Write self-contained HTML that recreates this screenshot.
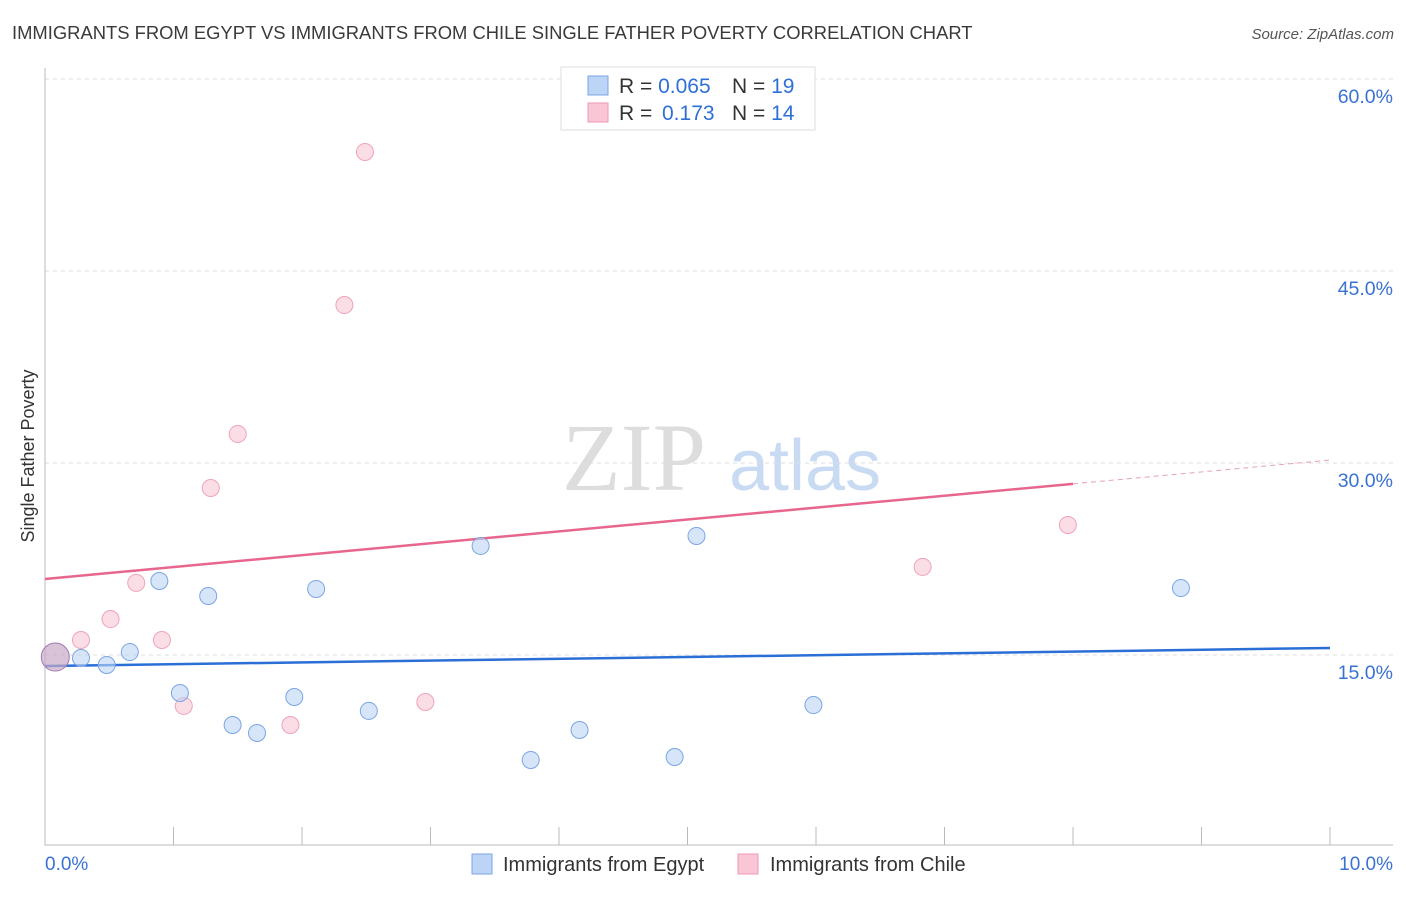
<!DOCTYPE html>
<html><head><meta charset="utf-8"><style>
body{margin:0;background:#fff;font-family:"Liberation Sans",sans-serif}
</style></head><body>
<svg id="c" width="1406" height="892" xmlns="http://www.w3.org/2000/svg">
<text x="12" y="39" font-size="18.4" fill="#3a3a3a">IMMIGRANTS FROM EGYPT VS IMMIGRANTS FROM CHILE SINGLE FATHER POVERTY CORRELATION CHART</text>
<text x="1394" y="39" font-size="15" fill="#555" font-style="italic" text-anchor="end">Source: ZipAtlas.com</text>
<text x="634" y="490" font-size="96" fill="#ddd" font-family="Liberation Serif,serif" text-anchor="middle">ZIP</text>
<text x="805" y="490" font-size="72" fill="#c9dbf3" text-anchor="middle">atlas</text>
<text transform="translate(34,456) rotate(-90)" font-size="18" fill="#333" text-anchor="middle">Single Father Poverty</text>
<g id="grid"></g><g id="axes"></g><g id="lines"></g><g id="pts"></g>
<g>
<rect x="561" y="67" width="254" height="63" fill="#fff" stroke="#ddd"/>
<rect x="588" y="76" width="20" height="19" fill="#bcd4f5" stroke="#7aa5e3"/>
<rect x="588" y="103" width="20" height="19" fill="#f8c6d5" stroke="#ee9ab4"/>
<text x="619" y="93" font-size="21" fill="#333">R = <tspan fill="#2f6fd6">0.065</tspan></text>
<text x="732" y="93" font-size="21" fill="#333">N = <tspan fill="#2f6fd6">19</tspan></text>
<text x="619" y="120" font-size="21" fill="#333">R = <tspan fill="#2f6fd6" x="662">0.173</tspan></text>
<text x="732" y="120" font-size="21" fill="#333">N = <tspan fill="#2f6fd6">14</tspan></text>
</g>
<g>
<rect x="472" y="854" width="20" height="20" fill="#bcd4f5" stroke="#7aa5e3"/>
<text x="503" y="871" font-size="20" fill="#333">Immigrants from Egypt</text>
<rect x="738" y="854" width="20" height="20" fill="#f8c6d5" stroke="#ee9ab4"/>
<text x="770" y="871" font-size="20" fill="#333">Immigrants from Chile</text>
</g>
</svg>
<script>
const egyptX=[0.08,0.28,0.48,0.66,0.89,1.05,1.27,1.46,1.65,1.94,2.11,2.52,3.39,3.78,4.16,4.90,5.07,5.98,8.84];
const egyptY=[14.84,14.77,14.22,15.23,20.78,12.03,19.61,9.53,8.91,11.72,20.16,10.63,23.52,6.80,9.14,7.03,24.30,11.09,20.23];
const chileX=[0.08,0.28,0.51,0.71,0.91,1.08,1.29,1.50,1.91,2.33,2.49,2.96,6.83,7.96];
const chileY=[14.84,16.17,17.81,20.63,16.17,11.02,28.05,32.27,9.53,42.34,54.30,11.33,21.88,25.16];
const yTicks=[15,30,45,60];
const xTickLabels=["0.0%","10.0%"];
const egyptTrend=[14.14,15.55];
const chileTrend=[20.94,30.23];
const chileSolidEnd=8.0;
const NS="http://www.w3.org/2000/svg";
const sx=v=>45+v*128.5, sy=v=>847-v*12.8;
function mk(p,t,a){const e=document.createElementNS(NS,t);for(const k in a)e.setAttribute(k,a[k]);document.getElementById(p).appendChild(e);return e;}
yTicks.forEach(t=>{
 const g=mk('grid','line',{x1:45,x2:1393,y1:sy(t),y2:sy(t),stroke:'#ddd','stroke-dasharray':'4,4'});
 
 
 const l=mk('grid','text',{x:1393,y:sy(t)+24,'font-size':19.5,fill:'#3a72d4','text-anchor':'end'});
 l.textContent=t.toFixed(1)+'%';
 
 
});
const ax=mk('axes','path',{d:'M45,68V845H1393',stroke:'#bbb',fill:'none'});


for(let i=1;i<=10;i++){const t=mk('axes','line',{x1:sx(i),x2:sx(i),y1:827,y2:845,stroke:'#bbb'});
 
 }
xTickLabels.forEach((s,i)=>{const t=mk('axes','text',{x:i?1393:45,y:870,'font-size':19,fill:'#3a72d4','text-anchor':i?'end':'start'});t.textContent=s;
 
 });
const cy=x=>chileTrend[0]+(chileTrend[1]-chileTrend[0])*x/10;
let l1=mk('lines','line',{x1:sx(0),y1:sy(egyptTrend[0]),x2:sx(10),y2:sy(egyptTrend[1]),stroke:'#2a6fd6','stroke-width':2.5});


let l2=mk('lines','line',{x1:sx(0),y1:sy(cy(0)),x2:sx(chileSolidEnd),y2:sy(cy(chileSolidEnd)),stroke:'#e8668e','stroke-width':2.5});


let l3=mk('lines','line',{x1:sx(chileSolidEnd),y1:sy(cy(chileSolidEnd)),x2:sx(10),y2:sy(cy(10)),stroke:'#e8a0b6','stroke-width':1,'stroke-dasharray':'5,4'});


chileX.forEach((x,i)=>{const c=mk('pts','circle',{cx:sx(x),cy:sy(chileY[i]),r:i?8.5:14,fill:i?'rgba(248,198,213,0.6)':'rgba(200,170,200,0.7)',stroke:i?'#efa3bb':'#a27ab0','stroke-width':1});
 
 });
egyptX.forEach((x,i)=>{if(i===0)return;const c=mk('pts','circle',{cx:sx(x),cy:sy(egyptY[i]),r:8.5,fill:'rgba(188,212,245,0.6)',stroke:'#7aa5e3','stroke-width':1});
 
 });
</script>
</body></html>
